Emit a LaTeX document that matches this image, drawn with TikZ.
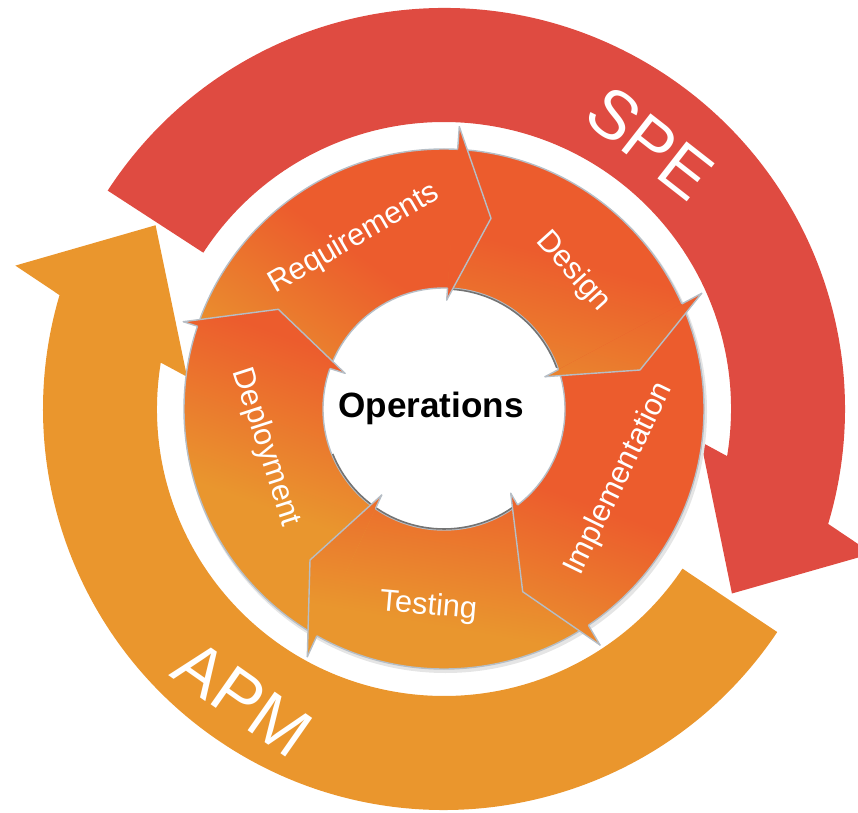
\documentclass[tikz,border=0pt]{standalone}
\usepackage{fontspec}
\setmainfont{Liberation Sans}
\usetikzlibrary{calc}
\definecolor{spered}{RGB}{223,75,65}
\definecolor{apmor}{RGB}{234,150,45}
\definecolor{segred}{RGB}{236,92,45}
\definecolor{segor}{RGB}{233,150,46}
\definecolor{segline}{RGB}{182,190,198}
\pgfdeclareverticalshading{segsh}{100bp}{color(0bp)=(segor); color(43bp)=(segor); color(57bp)=(segred); color(100bp)=(segred)}
\begin{document}
\begin{tikzpicture}[x=0.02cm,y=0.02cm,
  seglbl/.style={text=white,font=\fontsize{17.5}{20}\selectfont,inner sep=0pt},
  bandlbl/.style={text=white,font=\fontsize{39}{44}\selectfont,inner sep=0pt},
  segedge/.style={draw=segline,line width=0.8pt,line join=round,line cap=round}]
\useasboundingbox (0,0) rectangle (858,812);
\clip (0,0) rectangle (858,812);
\begin{scope}[shift={(444,403)}]
% ---- outer bands
\fill[spered] (147:401) arc[start angle=147,end angle=-16.65,radius=401]
  -- (-18.65:452) -- (-32.65:342) -- (-7.3:259) -- (-9.45:287)
  arc[start angle=-9.45,end angle=147,radius=287] -- cycle;
\fill[apmor] (-33.8:401) arc[start angle=-33.8,end angle=-196.5,radius=401]
  -- (-198.5:452) -- (-212.5:342) -- (-187.15:259) -- (-189.3:287)
  arc[start angle=-189.3,end angle=-33.8,radius=287] -- cycle;
\node[bandlbl,rotate=-38] (spe) at (206,265.7) {SPE};
\node[bandlbl,rotate=-35] (apm) at (-200.7,-289.3) {APM};
% ---- head points
\coordinate (OF1) at (15.3,282.3);   \coordinate (T1) at (47,190.7);     \coordinate (IF1) at (2.7,109);
\coordinate (OF2) at (257.7,115.7);  \coordinate (T2) at (196,39);       \coordinate (IF2) at (101,32.3);
\coordinate (OF3) at (156,-236);     \coordinate (T3) at (78.7,-182.7);  \coordinate (IF3) at (66.7,-84.3);
\coordinate (OF4) at (-136.7,-247.7);\coordinate (T4) at (-134,-151);    \coordinate (IF4) at (-62.3,-86);
\coordinate (OF5) at (-260.7,87.3);  \coordinate (T5) at (-165.7,99.7);  \coordinate (IF5) at (-99,35.7);
\foreach \i in {1,...,5}{
  \coordinate (OFs\i) at ($(OF\i)!0.06!(T\i)$);
  \coordinate (IFs\i) at ($(IF\i)!0.06!(T\i)$);
}
% gradient squares (centre = transition point), one per segment
\tikzset{
  g1/.style={shading=segsh,shading angle=-35},
  g2/.style={shading=segsh,shading angle=-15},
  g3/.style={shading=segsh,shading angle=-20},
  g4/.style={shading=segsh,shading angle=-10},
  g5/.style={shading=segsh,shading angle=-20}}
\def\sqA{(-474,-186) rectangle (126,414)}
\def\sqB{(-169,-239) rectangle (431,361)}
\def\sqC{(-204,-466) rectangle (396,134)}
\def\sqD{(-314,-431) rectangle (286,169)}
\def\sqE{(-479,-309) rectangle (121,291)}
% ---- ring shadow and inner disk
\fill[black!10] (1.5,-2.5) circle (261.5);
\fill[white] (0,0) circle (121);
% ---- bodies
\begin{scope}
\clip (260,0) arc[start angle=0,end angle=360,radius=260] -- (121,0) arc[start angle=360,end angle=0,radius=121] -- cycle;
\clip (IF5) -- (OF5) -- (150:420) -- (130:420) -- (110:420) -- (95:420) -- (OFs1) -- (IFs1) -- (0,0) -- cycle;
\shade[g1] \sqA;
\end{scope}
\begin{scope}
\clip (260,0) arc[start angle=0,end angle=360,radius=260] -- (121,0) arc[start angle=360,end angle=0,radius=121] -- cycle;
\clip (IF1) -- (OF1) -- (80:420) -- (60:420) -- (40:420) -- (28:420) -- (OFs2) -- (IFs2) -- (0,0) -- cycle;
\shade[g2] \sqB;
\end{scope}
\begin{scope}
\clip (260,0) arc[start angle=0,end angle=360,radius=260] -- (121,0) arc[start angle=360,end angle=0,radius=121] -- cycle;
\clip (IF2) -- (OF2) -- (15:420) -- (0:420) -- (-20:420) -- (-40:420) -- (-52:420) -- (OFs3) -- (IFs3) -- (0,0) -- cycle;
\shade[g3] \sqC;
\end{scope}
\begin{scope}
\clip (260,0) arc[start angle=0,end angle=360,radius=260] -- (121,0) arc[start angle=360,end angle=0,radius=121] -- cycle;
\clip (IF3) -- (OF3) -- (-65:420) -- (-85:420) -- (-105:420) -- (-115:420) -- (OFs4) -- (IFs4) -- (0,0) -- cycle;
\shade[g4] \sqD;
\end{scope}
\begin{scope}
\clip (260,0) arc[start angle=0,end angle=360,radius=260] -- (121,0) arc[start angle=360,end angle=0,radius=121] -- cycle;
\clip (IF4) -- (OF4) -- (-130:420) -- (-150:420) -- (-170:420) -- (170:420) -- (165:420) -- (OFs5) -- (IFs5) -- (0,0) -- cycle;
\shade[g5] \sqE;
\end{scope}
% ---- ring outlines and inner shadow
\draw[segedge] (0,0) circle (260);
\draw[segedge] (0,0) circle (121);
\draw[black!55,line width=0.9pt] (86:120) arc[start angle=86,end angle=20,radius=120];
\draw[black!55,line width=0.9pt] (-158:120) arc[start angle=-158,end angle=-55,radius=120];
% ---- heads
\begin{scope}\clip (OF1) -- (T1) -- (IF1) -- cycle; \shade[g1] \sqA;\end{scope}
\begin{scope}\clip (OF2) -- (T2) -- (IF2) -- cycle; \shade[g2] \sqB;\end{scope}
\begin{scope}\clip (OF3) -- (T3) -- (IF3) -- cycle; \shade[g3] \sqC;\end{scope}
\begin{scope}\clip (OF4) -- (T4) -- (IF4) -- cycle; \shade[g4] \sqD;\end{scope}
\begin{scope}\clip (OF5) -- (T5) -- (IF5) -- cycle; \shade[g5] \sqE;\end{scope}
\draw[segedge] (OF1) -- (T1) -- (IF1);
\draw[segedge] (OF2) -- (T2) -- (IF2);
\draw[segedge] (OF3) -- (T3) -- (IF3);
\draw[segedge] (OF4) -- (T4) -- (IF4);
\draw[segedge] (OF5) -- (T5) -- (IF5);
\begin{scope}
\clip (-450,-410) -- (420,-410) -- (420,420) -- (-450,420) -- cycle
  (260,0) arc[start angle=0,end angle=-360,radius=260] -- cycle
  (121,0) arc[start angle=0,end angle=360,radius=121] -- cycle;
\draw[segedge] (OF1) -- (IF1);
\draw[segedge] (OF2) -- (IF2);
\draw[segedge] (OF3) -- (IF3);
\draw[segedge] (OF4) -- (IF4);
\draw[segedge] (OF5) -- (IF5);
\end{scope}
% ---- labels
\node[font=\bfseries\fontsize{20}{24}\selectfont] (ops) at (-13,1) {Operations};
\node[seglbl,rotate=30] (lreq) at (-89.8,170.4) {Requirements};
\node[seglbl,rotate=-48] (ldes) at (129.3,137.3) {Design};
\node[seglbl,rotate=64] (limp) at (175.1,-70) {Implementation};
\node[seglbl,rotate=-5] (ltest) at (-15.7,-197.7) {Testing};
\node[seglbl,rotate=-72] (ldep) at (-178.2,-38.4) {Deployment};
\end{scope}
\end{tikzpicture}
\end{document}
